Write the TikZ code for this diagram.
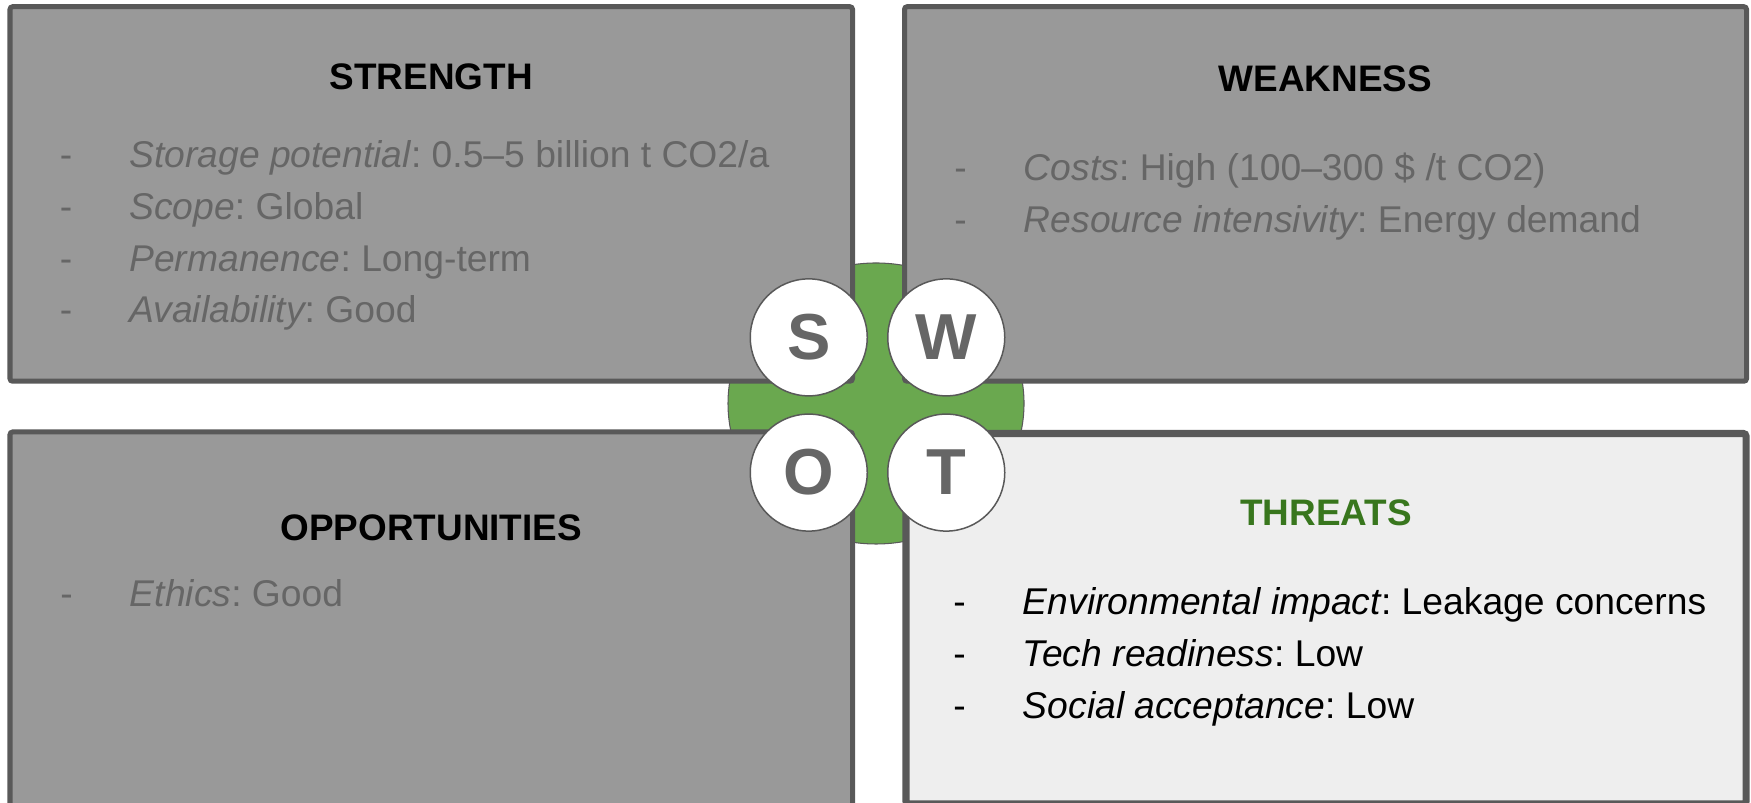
\documentclass[tikz,border=0pt]{standalone}
\usepackage{fontspec}
\setmainfont{Liberation Sans}
\usepackage{xcolor}
\usepackage{tikz}
\usetikzlibrary{shapes.geometric, positioning, calc}

\definecolor{boxgray}{HTML}{999999}
\definecolor{edgegray}{HTML}{595959}
\definecolor{itemgray}{HTML}{666666}
\definecolor{lightbox}{HTML}{EEEEEE}
\definecolor{hubgreen}{HTML}{6AA84F}
\definecolor{titlegreen}{HTML}{38761D}

% dash, then the entry
\newcommand{\dashitem}[1]{\makebox[1.39cm][l]{-}#1}
\frenchspacing

\begin{document}
\begin{tikzpicture}[
    quad/.style={rectangle, draw=edgegray, line width=2.85pt, fill=boxgray,
                 rounded corners=1.5pt, inner sep=0pt},
    title/.style={anchor=base, inner sep=0pt, font=\fontsize{21}{25}\selectfont\bfseries},
    item/.style={anchor=base west, inner sep=0pt, text=itemgray,
                 font=\fontsize{21.2}{25}\selectfont},
    letter/.style={circle, draw=edgegray, line width=0.85pt, fill=white,
                   minimum size=2.34cm, inner sep=0pt, text=itemgray,
                   font=\fontsize{37}{40}\selectfont\bfseries}
  ]
  \useasboundingbox (0,0) rectangle (35.02,16.06);

  % green hub behind the four quadrants
  \node (hub) [ellipse, draw=edgegray, line width=0.6pt, fill=hubgreen,
               minimum width=5.92cm, minimum height=5.62cm] at (17.52,7.99) {};

  % quadrants
  \node (strength) [quad, minimum width=16.85cm, minimum height=7.49cm] at (8.625,12.18) {};
  \node (weakness) [quad, minimum width=16.84cm, minimum height=7.49cm] at (26.51,12.18) {};
  \node (opport)   [quad, minimum width=16.85cm, minimum height=7.76cm] at (8.625,3.54) {};
  \node (threats)  [quad, fill=lightbox, line width=4pt,
                    minimum width=16.80cm, minimum height=7.41cm] at (26.52,3.685) {};

  % headings
  \node (strength-t) [title] at ($(strength.north)+(0,-1.71)$) {STRENGTH};
  \node (weakness-t) [title] at ($(weakness.north)+(0,-1.74)$) {WEAKNESS};
  \node (opport-t)   [title] at ($(opport.north)+(0,-2.23)$) {OPPORTUNITIES};
  \node (threats-t)  [title, text=titlegreen] at ($(threats.north)+(0,-1.92)$) {THREATS};

  % entries
  \foreach \line [count=\k] in {
      {{\itshape Storage potential}: 0.5--5 billion t CO2/a},
      {{\itshape Scope}: Global},
      {{\itshape Permanence}: Long-term},
      {{\itshape Availability}: Good}}
    \node (s\k) [item] at ($(strength.north west)+(1.04,{-3.27-(\k-1)*1.034})$) {\dashitem{\line}};

  \foreach \line [count=\k] in {
      {{\itshape Costs}: High (100--300 \$ /t CO2)},
      {{\itshape Resource intensivity}: Energy demand}}
    \node (w\k) [item] at ($(weakness.north west)+(1.04,{-3.53-(\k-1)*1.04})$) {\dashitem{\line}};

  \node (o1) [item] at ($(opport.north west)+(1.05,-3.54)$) {\dashitem{{\itshape Ethics}: Good}};

  \foreach \line [count=\k] in {
      {{\itshape Environmental impact}: Leakage concerns},
      {{\itshape Tech readiness}: Low},
      {{\itshape Social acceptance}: Low}}
    \node (t\k) [item, text=black] at ($(threats.north west)+(1.01,{-3.69-(\k-1)*1.04})$) {\dashitem{\line}};

  % letter discs on the hub
  \coordinate (core) at (17.55,7.96);
  \node (s-disc) [letter] at ($(core)+(-1.375,1.352)$) {S};
  \node (w-disc) [letter] at ($(core)+(1.375,1.352)$)  {W};
  \node (o-disc) [letter] at ($(core)+(-1.375,-1.352)$) {O};
  \node (t-disc) [letter] at ($(core)+(1.375,-1.352)$)  {T};
\end{tikzpicture}
\end{document}
